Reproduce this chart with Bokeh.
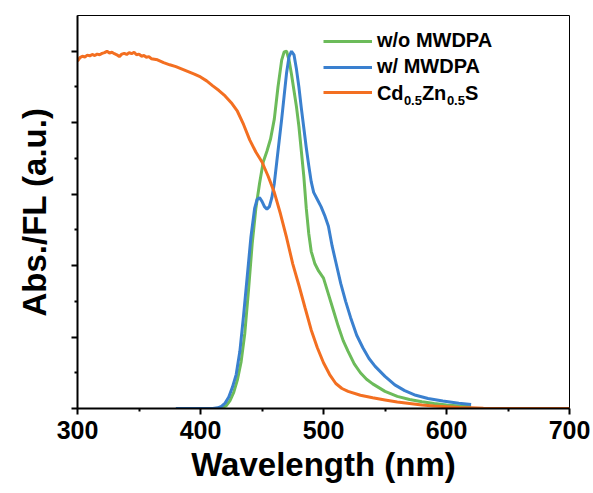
from bokeh.plotting import figure
from bokeh.models import (Range1d, FixedTicker, CustomJSTickFormatter, Legend,
                          LegendItem, Label)
from bokeh.embed import file_html
from bokeh.resources import INLINE

# ---------------- data ----------------
abs_wl = [300, 302, 304, 306, 308, 310, 312, 314, 316, 318, 320, 322, 324, 326,
          328, 330, 332, 334, 336, 338, 340, 342, 344, 346, 348, 350, 352, 354,
          356, 358, 360, 365, 370, 375, 380, 385, 390, 395, 400, 405, 410, 415,
          420, 425, 430, 435, 440, 445, 450, 455, 460, 465, 470, 475, 480, 485,
          490, 495, 500, 505, 510, 515, 520, 530, 540, 550, 560, 570, 580, 590,
          600, 610, 620, 630, 650, 700]
abs_val = [0.972, 0.982, 0.986, 0.984, 0.989, 0.987, 0.991, 0.988, 0.992, 0.990,
           0.994, 0.996, 1.000, 0.995, 0.997, 0.993, 0.990, 0.985, 0.992, 0.994,
           0.991, 0.996, 0.993, 0.997, 0.990, 0.992, 0.986, 0.988, 0.983, 0.985,
           0.979, 0.976, 0.968, 0.962, 0.957, 0.950, 0.943, 0.936, 0.928, 0.917,
           0.903, 0.890, 0.875, 0.856, 0.832, 0.795, 0.752, 0.718, 0.690, 0.650,
           0.605, 0.545, 0.478, 0.405, 0.345, 0.282, 0.220, 0.170, 0.128, 0.095,
           0.070, 0.056, 0.048, 0.037, 0.030, 0.024, 0.018, 0.014, 0.010, 0.007,
           0.005, 0.003, 0.002, 0.001, 0.0, 0.0]

wo_wl = [380, 400, 410, 415, 418, 421, 424, 427, 430, 433, 436, 439, 442, 445,
         448, 451, 454, 457, 460, 463, 466, 468, 470, 472, 474, 476, 478, 480,
         482, 484, 486, 488, 490, 493, 496, 500, 504, 508, 512, 516, 520, 525,
         530, 535, 540, 550, 560, 570, 580, 590, 600, 610, 620]
wo_val = [0.0, 0.0, 0.0, 0.001, 0.003, 0.008, 0.022, 0.045, 0.08, 0.13, 0.21,
          0.33, 0.46, 0.56, 0.63, 0.69, 0.72, 0.755, 0.81, 0.90, 0.975, 0.998,
          1.0, 0.975, 0.935, 0.89, 0.845, 0.79, 0.72, 0.65, 0.56, 0.49, 0.44,
          0.405, 0.385, 0.365, 0.32, 0.275, 0.23, 0.19, 0.16, 0.125, 0.10,
          0.082, 0.069, 0.048, 0.034, 0.025, 0.019, 0.014, 0.010, 0.007, 0.005]

w_wl = [380, 400, 410, 414, 417, 420, 423, 426, 429, 432, 435, 438, 441, 444,
        446, 448, 450, 452, 454, 456, 458, 460, 462, 464, 466, 468, 470, 472,
        474, 476, 478, 480, 482, 484, 486, 488, 490, 492, 495, 498, 501, 504,
        507, 510, 514, 518, 522, 527, 532, 537, 542, 550, 558, 566, 575, 585,
        597, 610, 620]
w_val = [0.0, 0.0, 0.0, 0.002, 0.006, 0.015, 0.032, 0.06, 0.095, 0.16, 0.26,
         0.37, 0.48, 0.56, 0.585, 0.59, 0.58, 0.565, 0.558, 0.565, 0.59, 0.63,
         0.69, 0.75, 0.81, 0.875, 0.94, 0.985, 1.0, 0.99, 0.95, 0.90, 0.84,
         0.785, 0.73, 0.68, 0.635, 0.605, 0.585, 0.565, 0.54, 0.51, 0.455,
         0.41, 0.35, 0.30, 0.255, 0.205, 0.17, 0.14, 0.118, 0.09, 0.066, 0.05,
         0.037, 0.028, 0.021, 0.015, 0.011]

x_ticks = [300, 400, 500, 600, 700]
x_minor = [350, 450, 550, 650]
y_ticks = [0.0, 0.2, 0.4, 0.6, 0.8, 1.0]
y_minor = [0.1, 0.3, 0.5, 0.7, 0.9]

labels = ["w/o MWDPA", "w/ MWDPA"]
formula_parts = ["Cd", "0.5", "Zn", "0.5", "S"]

GREEN = "#6CBB5A"
BLUE = "#3A80CF"
ORANGE = "#F36F21"
FONT = "Liberation Sans"

p = figure(width=593, height=493, output_backend="svg", toolbar_location=None,
           x_range=Range1d(300, 700), y_range=Range1d(0, 1.1),
           min_border_left=77, min_border_right=24, min_border_top=15,
           min_border_bottom=85)
p.grid.visible = False
p.outline_line_color = "black"
p.outline_line_width = 1
p.background_fill_color = "white"
p.border_fill_color = "white"

r_wo = p.line(wo_wl, wo_val, line_color=GREEN, line_width=3)
r_w = p.line(w_wl, w_val, line_color=BLUE, line_width=3)
r_abs = p.line(abs_wl, abs_val, line_color=ORANGE, line_width=3)

# axes
for ax in (p.xaxis[0], p.yaxis[0]):
    ax.axis_line_width = 2
    ax.major_tick_line_width = 2
    ax.minor_tick_line_width = 2
    ax.major_tick_in = 0
    ax.minor_tick_in = 0
    ax.major_tick_out = 6
    ax.minor_tick_out = 3
    ax.axis_label_text_font = FONT
    ax.axis_label_text_font_style = "bold"
    ax.axis_label_text_font_size = "33px"
    ax.axis_label_text_color = "black"
    ax.major_label_text_font = FONT
    ax.major_label_text_font_style = "bold"
    ax.major_label_text_font_size = "25px"
    ax.major_label_text_color = "black"

p.xaxis.ticker = FixedTicker(ticks=x_ticks, minor_ticks=x_minor)
p.xaxis.axis_label = "Wavelength (nm)"
p.xaxis.major_label_standoff = 6
p.xaxis.axis_label_standoff = 4

p.yaxis.ticker = FixedTicker(ticks=y_ticks, minor_ticks=y_minor)
p.yaxis.formatter = CustomJSTickFormatter(code="return ''")
p.yaxis.axis_label = "Abs./FL (a.u.)"
p.yaxis.major_label_standoff = 0
p.yaxis.axis_label_standoff = 19

legend = Legend(items=[LegendItem(label=labels[0], renderers=[r_wo]),
                       LegendItem(label=labels[1], renderers=[r_w]),
                       LegendItem(label=" ", renderers=[r_abs])],
                location=(246, 305), padding=0, margin=0,
                border_line_alpha=0, background_fill_alpha=0,
                glyph_width=49, glyph_height=22, label_height=22,
                spacing=3, label_standoff=5,
                label_text_font=FONT, label_text_font_style="bold",
                label_text_font_size="20px", label_text_color="black")
p.add_layout(legend)

# formula with subscripts for the third legend entry
fx, fy = 543.4, 0.8825
offsets = [0, 27, 45, 70, 88]
sizes = ["20px", "13px", "20px", "13px", "20px"]
dy = [0, -7, 0, -7, 0]
for txt, ox, fs, oy in zip(formula_parts, offsets, sizes, dy):
    p.add_layout(Label(x=fx, y=fy, x_offset=ox, y_offset=oy, text=txt,
                       text_font=FONT, text_font_style="bold",
                       text_font_size=fs, text_color="black",
                       text_baseline="middle", text_align="left"))

open("out.html", "w").write(file_html(p, INLINE))
